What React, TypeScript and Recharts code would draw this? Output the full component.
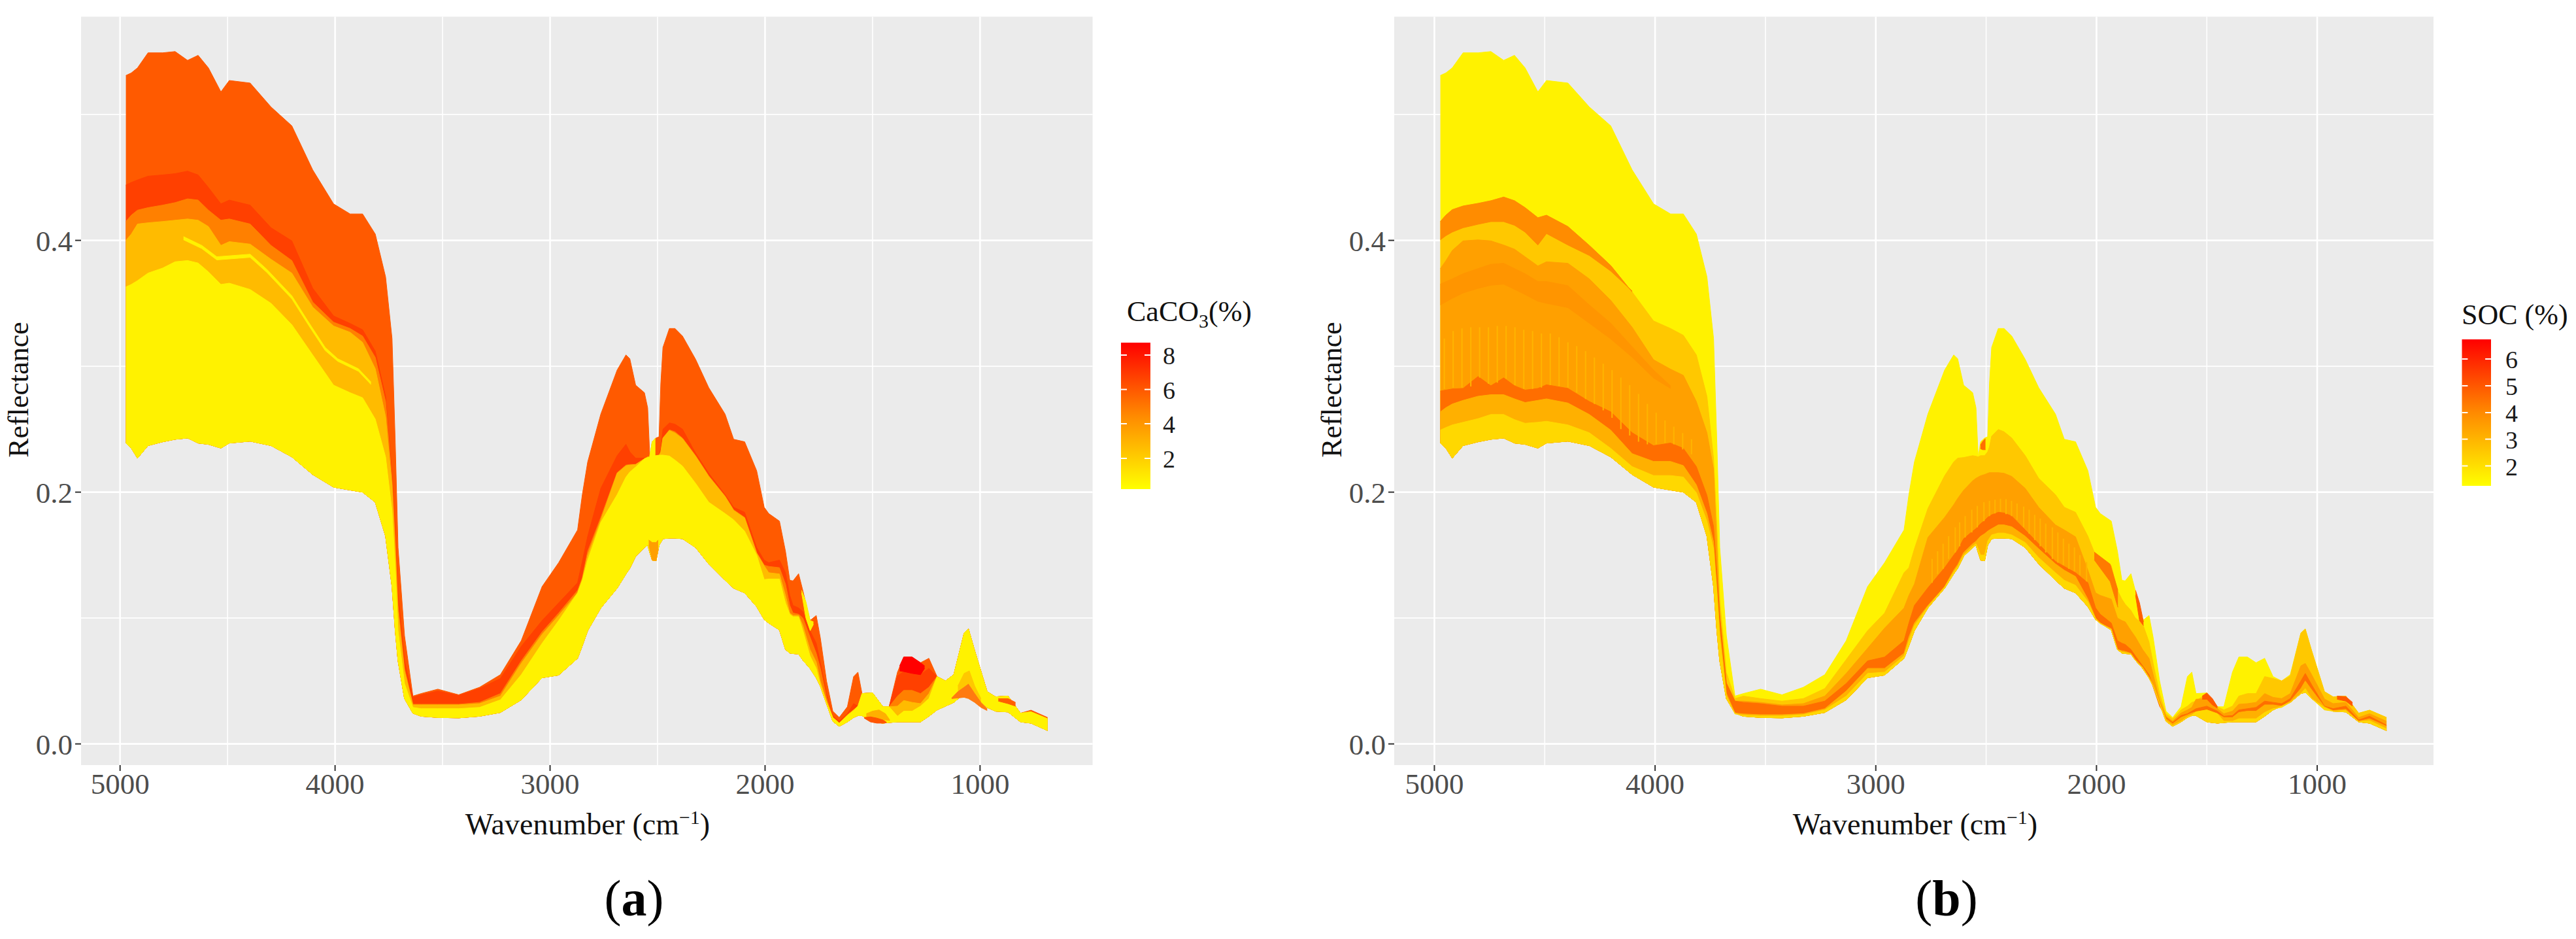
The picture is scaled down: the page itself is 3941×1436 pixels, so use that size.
import React from 'react';
import { ComposedChart, Area, Line, XAxis, YAxis, CartesianGrid } from 'recharts';

// Wavenumbers (cm-1) at which the envelope and colour-band boundaries were read
const wavenumbers = [
  4973,4948,4919,4870,4802,4744,4686,4637,4589,4531,
  4492,4395,4298,4201,4104,4007,3930,3872,3813,3765,
  3735,3720,3707,3677,3638,3600,3522,3425,3328,3231,
  3134,3037,2960,2872,2850,2825,2764,2688,2647,2629,
  2602,2561,2546,2536,2525,2507,2493,2485,2475,2445,
  2419,2384,2323,2262,2186,2146,2095,2039,2004,1983,
  1933,1905,1885,1870,1844,1824,1791,1762,1743,1714,
  1685,1655,1617,1588,1568,1549,1500,1452,1423,1384,
  1355,1316,1277,1238,1200,1161,1122,1074,1054,1025,
  967,928,870,812,763,686,
];

const envelopeTop = [
  .531,.533,.537,.549,.549,.550,.543,.547,.537,.518,
  .527,.525,.506,.491,.456,.429,.421,.421,.405,.371,
  .322,.239,.156,.086,.038,.040,.0435,.039,.045,.055,
  .082,.125,.144,.170,.198,.224,.262,.297,.309,.306,
  .285,.279,.267,.228,.240,.243,.244,.286,.315,.330,
  .330,.324,.3055,.283,.262,.242,.240,.217,.188,.183,
  .177,.153,.130,.1295,.1352,.1217,.098,.102,.0844,.050,
  .026,.021,.0295,.0535,.057,.040,.0405,.0295,.0295,.057,
  .069,.069,.0645,.068,.0535,.050,.055,.088,.0913,.074,
  .0415,.0374,.038,.0244,.0268,.021,
];

const envelopeBottom = [
  .239,.235,.227,.237,.240,.242,.243,.239,.238,.235,
  .239,.2405,.237,.228,.214,.204,.2017,.200,.192,.165,
  .125,.090,.066,.036,.0244,.022,.021,.0207,.022,.025,
  .035,.0526,.0547,.068,.078,.090,.108,.1237,.135,.1395,
  .149,.156,.158,.152,.146,.1455,.158,.160,.163,.1635,
  .1635,.163,.156,.143,.130,.1237,.120,.109,.0988,.096,
  .0905,.075,.0722,.0718,.0714,.0665,.060,.0525,.046,.032,
  .018,.014,.0175,.021,.0225,.0225,.0175,.0165,.017,.0175,
  .0175,.0175,.0175,.022,.027,.030,.033,.040,.041,.036,
  .029,.026,.0254,.0175,.0165,.0106,
];

// Panel (a): upper edges of the colour bands, from the deepest orange downwards
const caco3Edge1 = [
  .444,.446,.448,.451,.452,.453,.455,.452,.442,.429,
  .432,.428,.410,.3996,.362,.340,.334,.329,.312,.276,
  .215,.170,.120,.066,.037,.039,.042,.0385,.044,.052,
  .0775,.098,.112,.128,.145,.165,.203,.229,.238,.232,
  .227,.227,.228,.228,.2285,.229,.229,.235,.250,.255,
  .254,.250,.231,.215,.198,.188,.184,.156,.146,.144,
  .146,.136,.118,.110,.108,.105,.090,.080,.065,.040,
  .022,.018,.024,.032,.030,.040,.0405,.0295,.0295,.054,
  .0575,.056,.055,.060,.0535,.050,.055,.088,.0913,.074,
  .0415,.0374,.038,.0244,.0255,.020,
];
const caco3Edge2 = [
  .415,.420,.424,.426,.428,.430,.433,.432,.424,.416,
  .417,.413,.396,.384,.351,.335,.330,.324,.307,.272,
  .210,.160,.110,.060,.0315,.0315,.0315,.0315,.033,.040,
  .066,.089,.104,.122,.132,.153,.180,.2155,.2215,.222,
  .222,.2265,.228,.228,.2285,.229,.229,.232,.243,.2495,
  .248,.243,.229,.213,.197,.186,.180,.152,.142,.141,
  .140,.127,.110,.104,.103,.100,.085,.072,.060,.037,
  .021,.0165,.023,.027,.030,.040,.0405,.0295,.0295,.038,
  .0425,.0425,.040,.045,.0535,.050,.055,.088,.0913,.074,
  .0415,.0374,.038,.0244,.0255,.020,
];
const caco3Edge3 = [
  .400,.405,.413,.414,.415,.416,.417,.416,.411,.396,
  .399,.397,.385,.374,.347,.332,.327,.319,.298,.260,
  .205,.155,.105,.058,.0310,.031,.031,.031,.032,.038,
  .064,.087,.102,.120,.131,.150,.178,.2150,.2210,.2215,
  .222,.2265,.228,.228,.2285,.229,.229,.232,.243,.249,
  .247,.2425,.2285,.2125,.1965,.1855,.1795,.1515,.1415,.136,
  .135,.118,.104,.102,.102,.094,.075,.065,.050,.034,
  .021,.0165,.023,.027,.030,.040,.0405,.0295,.0295,.030,
  .0345,.033,.032,.040,.0535,.050,.055,.088,.0913,.074,
  .0415,.0374,.038,.0244,.0255,.020,
];
const caco3Edge4 = [
  .363,.365,.368,.374,.378,.383,.384,.382,.375,.365,
  .366,.361,.350,.333,.309,.285,.279,.275,.258,.228,
  .185,.140,.090,.048,.029,.028,.028,.028,.029,.035,
  .055,.080,.098,.120,.130,.146,.176,.198,.212,.216,
  .220,.2265,.2275,.228,.2285,.229,.2294,.2294,.2294,.2287,
  .2255,.2207,.207,.192,.183,.178,.169,.150,.1306,.131,
  .131,.112,.103,.101,.101,.090,.070,.060,.047,.033,
  .021,.0165,.0225,.0265,.030,.040,.0405,.0295,.0295,.022,
  .026,.026,.030,.036,.0535,.050,.055,.088,.0913,.074,
  .0415,.0374,.038,.0244,.0255,.020,
];

// Panel (a): small patches that sit on top of the nested bands
const caco3Thread = { wn: [4705,4620,4550,4395,4317,4201,4123,4046,3988,3891,3833],
  lo: [.4005,.3935,.3845,.3865,.3745,.3535,.3325,.3125,.3040,.2960,.2855],
  hi: [.4030,.3960,.3870,.3890,.3770,.3560,.3350,.3150,.3060,.2980,.2875] };
const caco3DipYellow = { wn: [2537,2525,2510], lo: [.226,.226,.226], hi: [.2285,.240,.243] };
const caco3DipOrange = { wn: [2541,2525,2507,2497], lo: [.158,.146,.1455,.155], hi: [.162,.160,.160,.162] };
const caco3Red = { wn: [1374,1355,1316,1277,1258], lo: [.058,.0575,.056,.055,.060], hi: [.062,.069,.069,.0645,.062] };
const caco3Sliver = { wn: [1830,1810,1790,1775], lo: [.120,.100,.090,.095], hi: [.122,.113,.098,.097] };
const caco3Amber = { wn: [1103,1074,1050,1025,996], lo: [.0415,.045,.0475,.040,.033], hi: [.046,.056,.058,.046,.036] };
const caco3Orange = { wn: [1132,1103,1074,1054,1025,996,967], lo: [.036,.0365,.037,.036,.033,.029,.0265], hi: [.0365,.0415,.045,.0475,.040,.033,.028] };
const caco3LowAmber = { wn: [1529,1500,1470,1440,1420], lo: [.022,.0205,.019,.019,.0185], hi: [.024,.026,.027,.024,.019] };
const caco3LowRed = { wn: [1539,1510,1480,1452,1435], lo: [.0205,.0175,.0165,.0165,.0168], hi: [.021,.0215,.0205,.019,.0172] };
const caco3Tail = { wn: [915,870,835], lo: [.034,.032,.030], hi: [.036,.036,.033] };

// Panel (b): upper edges of the colour bands
const socEdge1 = [
  .415,.420,.4244,.4273,.4294,.4315,.4344,.4315,.426,.418,
  .420,.411,.396,.380,.359,.336,.330,.3246,.309,.276,
  .2265,.1727,.1147,.0567,.036,.038,.036,.034,.036,.044,
  .067,.090,.104,.136,.140,.155,.187,.213,.224,.227,
  .2275,.229,.2285,.228,.229,.229,.232,.236,.2445,.2498,
  .248,.243,.229,.211,.198,.188,.184,.165,.1497,.147,
  .1415,.122,.115,.111,.106,.100,.0955,.081,.0638,.0398,
  .024,.020,.027,.030,.033,.034,.0405,.0295,.027,.030,
  .038,.040,.040,.0535,.052,.050,.054,.088,.0913,.074,
  .0415,.0374,.038,.0244,.0268,.021,
];
const socEdge2 = [
  .3776,.3838,.392,.3996,.4004,.3996,.3963,.393,.387,.3797,
  .383,.3818,.3694,.3524,.331,.3052,.2977,.2928,.272,.2472,
  .2182,.156,.1023,.0484,.034,.034,.033,.031,.032,.038,
  .056,.076,.092,.108,.118,.127,.164,.180,.190,.195,
  .2015,.209,.211,.212,.213,.214,.215,.2155,.2155,.2155,
  .215,.2125,.203,.188,.174,.170,.1645,.138,.120,.118,
  .115,.100,.098,.097,.090,.085,.075,.068,.055,.035,
  .022,.018,.0245,.027,.029,.0355,.036,.028,.024,.026,
  .0315,.032,.033,.040,.037,.036,.040,.062,.064,.055,
  .0357,.032,.033,.021,.024,.018,
];
const socEdge3 = [
  .2803,.2811,.282,.2824,.2919,.2845,.2908,.2845,.2811,.2824,
  .2853,.2824,.272,.2638,.2472,.2369,.239,.2348,.2203,.1975,
  .1727,.1354,.1023,.0484,.034,.033,.032,.030,.030,.034,
  .048,.066,.069,.082,.096,.110,.124,.140,.150,.154,
  .163,.169,.171,.173,.175,.1775,.180,.181,.182,.184,
  .1835,.181,.170,.159,.145,.141,.136,.128,.108,.103,
  .096,.082,.080,.079,.075,.070,.062,.055,.045,.030,
  .021,.017,.0225,.024,.026,.028,.030,.026,.022,.0225,
  .027,.028,.029,.034,.033,.032,.036,.050,.056,.047,
  .030,.028,.030,.019,.022,.015,
];
const socEdge4 = [
  .2638,.2671,.27,.2729,.2762,.2774,.2774,.2741,.2712,.2729,
  .2741,.2708,.2617,.2493,.2306,.2244,.2244,.2211,.2058,.183,
  .1603,.123,.090,.0402,.0245,.0238,.0232,.0232,.0240,.028,
  .042,.060,.060,.072,.085,.096,.110,.125,.138,.1425,
  .152,.159,.161,.163,.165,.167,.169,.170,.171,.174,
  .174,.1725,.165,.155,.143,.138,.133,.115,.100,.096,
  .0915,.075,.074,.0735,.072,.067,.061,.053,.0465,.0325,
  .020,.016,.021,.023,.0245,.0255,.027,.024,.021,.021,
  .025,.026,.026,.031,.031,.030,.034,.044,.050,.043,
  .0295,.0265,.0275,.018,.020,.014,
];
const socEdge5 = [
  .2493,.2513,.2534,.2555,.2584,.2617,.2617,.2576,.2547,.2555,
  .2563,.2534,.2472,.2348,.2203,.2132,.2132,.212,.1996,.1768,
  .155,.120,.085,.0382,.0238,.0228,.0222,.0222,.0232,.027,
  .038,.056,.057,.070,.082,.094,.109,.1245,.1365,.141,
  .150,.157,.159,.155,.150,.150,.161,.1635,.166,.1675,
  .1675,.166,.160,.148,.136,.130,.126,.113,.0995,.0955,
  .091,.075,.073,.0725,.0715,.0665,.0605,.0525,.046,.032,
  .0185,.0145,.018,.0215,.023,.0255,.027,.024,.018,.018,
  .020,.020,.020,.025,.028,.029,.033,.040,.044,.036,
  .027,.026,.0265,.0178,.0185,.012,
];

// Panel (b): patches on top of the nested bands
const socOrangeWn = [4973,4948,4919,4870,4802,4744,4686,4637,4589,4531,4492,4395,4298,4201,4104];
const socOrange = { wn: socOrangeWn,
  lo: [.4004,.4037,.4066,.41,.4128,.4149,.4149,.412,.4066,.3963,.4054,.3963,.388,.3756,.3598],
  hi: [.415,.420,.4244,.4273,.4294,.4315,.4344,.4315,.426,.418,.420,.411,.396,.380,.359] };
const socDeeperWn = [4973,4919,4870,4802,4744,4686,4637,4589,4531,4492,4395,4298,4201,4104,4007,3930];
const socDeeper = { wn: socDeeperWn,
  lo: [.3487,.354,.3582,.3619,.3644,.3652,.3611,.357,.3516,.35,.3466,.3342,.3217,.3072,.2907,.2824],
  hi: [.3652,.3694,.3735,.3776,.381,.3818,.3776,.3735,.3673,.3673,.364,.3487,.3342,.3155,.297,.2845] };
const socSpot = { wn: [2526,2515,2503], lo: [.2345,.2337,.2337], hi: [.2375,.2405,.2425] };
const socSliver = { wn: [1823,1805,1787], lo: [.118,.098,.094], hi: [.122,.112,.097] };
const socLowRed = { wn: [1521,1500,1475,1452], lo: [.0355,.0355,.031,.0285], hi: [.038,.0405,.036,.0295] };
const socDark = { wn: [2010,1938,1903], lo: [.1462,.129,.1085], hi: [.1524,.1428,.122] };
const socTail = { wn: [910,870,840], lo: [.0355,.034,.030], hi: [.038,.0375,.033] };

// Panel (b): the fine vertical streaks visible above the dark orange strip
const socStreakWn = [
  4955,4915,4875,4835,4795,4755,4715,4675,4635,4595,4555,4515,4475,4435,4395,
  4355,4315,4275,4235,4195,4155,4115,4075,4035,3995,3955,3915,3875,3835,
  2745,2720,2695,2670,2640,2620,2595,2565,2540,2510,2485,2460,2435,2410,2385,
  2360,2330,2305,2280,2255,2230,2200,2175,2150,2125,2100,2075,2045,
];
const socStreakHi = [
  .322,.328,.330,.331,.331,.331,.332,.332,.331,.329,.328,.326,.326,.323,.319,
  .316,.312,.307,.302,.297,.291,.285,.278,.270,.263,.257,.252,.247,.242,
  .147,.153,.159,.165,.172,.176,.181,.186,.189,.192,.193,.194,.1947,.1945,.193,
  .191,.1885,.186,.182,.179,.175,.172,.168,.163,.159,.156,.150,.1445,
];
const socStreakLo = [
  .282,.283,.283,.284,.291,.286,.287,.290,.285,.282,.282,.283,.285,.284,.283,
  .279,.274,.270,.265,.259,.250,.245,.240,.238,.238,.239,.238,.234,.230,
  .128,.135,.139,.147,.152,.157,.164,.168,.172,.177,.181,.183,.1843,.1825,.181,
  .178,.172,.167,.162,.157,.152,.147,.144,.142,.139,.137,.134,.129,
];

const majorX = [5000, 4000, 3000, 2000, 1000];
const minorX = [4500, 3500, 2500, 1500];
const majorY = [0, 0.2, 0.4];
const minorY = [0.1, 0.3, 0.5];

const FONT = '"Liberation Serif", serif';
const Y_DOMAIN = [-0.0168, 0.5777];

const nested = (edge: number[]) =>
  wavenumbers.map((wn, i) => ({ wn, range: [envelopeBottom[i], edge[i]] }));
const patch = (p: { wn: number[]; lo: number[]; hi: number[] }) =>
  p.wn.map((wn, i) => ({ wn, range: [p.lo[i], p.hi[i]] }));
// Each streak is two points followed by a gap, so a single Line draws them all
const streakRows = socStreakWn.flatMap((wn, i) => [
  { wn, v: socStreakLo[i] },
  { wn, v: socStreakHi[i] },
  { wn, v: null },
]);

const caco3Layers: [any[], string][] = [
  [nested(envelopeTop), '#FF5A00'],
  [nested(caco3Edge1), '#FF4000'],
  [nested(caco3Edge2), '#FF8000'],
  [nested(caco3Edge3), '#FFBB00'],
  [nested(caco3Edge4), '#FFF200'],
  [patch(caco3Thread), '#FFF200'],
  [patch(caco3DipYellow), '#FFF200'],
  [patch(caco3DipOrange), '#FF9F00'],
  [patch(caco3Red), '#FF0000'],
  [patch(caco3Sliver), '#FFF200'],
  [patch(caco3Amber), '#FFC800'],
  [patch(caco3Orange), '#FF7A10'],
  [patch(caco3LowAmber), '#FFB000'],
  [patch(caco3LowRed), '#FF5500'],
  [patch(caco3Tail), '#FF6000'],
];

const socLayers: [any[], string][] = [
  [nested(envelopeTop), '#FFF200'],
  [nested(socEdge1), '#FFC800'],
  [patch(socOrange), '#FF8C00'],
  [nested(socEdge2), '#FFA000'],
  [patch(socDeeper), '#FF9500'],
  [nested(socEdge3), '#FF6E00'],
  [nested(socEdge4), '#FFB000'],
  [nested(socEdge5), '#FFD800'],
  [patch(socSpot), '#FF6E00'],
  [patch(socSliver), '#FF6000'],
  [patch(socLowRed), '#FF5A00'],
  [patch(socDark), '#FF7A00'],
  [patch(socTail), '#FF5A00'],
];

function Panel({ left, width, rightMargin, xDomain, layers, streaks }: any) {
  return (
    <div style={{ position: 'absolute', left, top: 0 }}>
      <ComposedChart
        width={width}
        height={1310}
        margin={{ top: 25.5, right: rightMargin, left: 0, bottom: 60 }}
      >
        <CartesianGrid fill="#EBEBEB" stroke="#FFFFFF" strokeWidth={1.6}
          verticalValues={minorX} horizontalValues={minorY} />
        <CartesianGrid stroke="#FFFFFF" strokeWidth={2.6} fillOpacity={0}
          verticalValues={majorX} horizontalValues={majorY} />
        <XAxis type="number" dataKey="wn" reversed domain={xDomain} allowDataOverflow
          ticks={majorX} interval={0} height={80} axisLine={false}
          tickSize={9} tickMargin={3}
          tickLine={{ stroke: '#333333', strokeWidth: 2 }}
          tick={{ fontFamily: FONT, fontSize: 45, fill: '#4D4D4D' }} />
        <YAxis type="number" domain={Y_DOMAIN} allowDataOverflow
          ticks={majorY} interval={0} width={124} axisLine={false}
          tickSize={9} tickMargin={4}
          tickFormatter={(v: number) => v.toFixed(1)}
          tickLine={{ stroke: '#333333', strokeWidth: 2 }}
          tick={{ fontFamily: FONT, fontSize: 45, fill: '#4D4D4D' }} />
        {layers.map(([data, color]: [any[], string], i: number) => (
          <Area key={i} data={data} dataKey="range" type="linear"
            fill={color} fillOpacity={1} stroke={color} strokeWidth={1}
            dot={false} activeDot={false} isAnimationActive={false} />
        ))}
        {streaks ? (
          <Line data={streaks} dataKey="v" type="linear" stroke="#FFB400" strokeWidth={2}
            dot={false} activeDot={false} connectNulls={false} isAnimationActive={false} />
        ) : null}
      </ComposedChart>
    </div>
  );
}

function ColorBar({ id, x, y, w, h, ticks, labelX, labels }: any) {
  return (
    <g>
      <defs>
        <linearGradient id={id} x1="0" y1="0" x2="0" y2="1">
          <stop offset="0" stopColor="#FF0000" />
          <stop offset="0.5" stopColor="#FF8A00" />
          <stop offset="1" stopColor="#FFFF00" />
        </linearGradient>
      </defs>
      <rect x={x} y={y} width={w} height={h} fill={`url(#${id})`} />
      {ticks.map((t: number, i: number) => (
        <g key={i} stroke="#FFFFFF" strokeWidth={2}>
          <line x1={x} x2={x + w / 5} y1={t} y2={t} />
          <line x1={x + w - w / 5} x2={x + w} y1={t} y2={t} />
        </g>
      ))}
      {labels.map((l: string, i: number) => (
        <text key={l} x={labelX} y={ticks[i] + 14} fontFamily={FONT} fontSize={38} fill="#1A1A1A">{l}</text>
      ))}
    </g>
  );
}

const Wave = ({ x }: { x: number }) => (
  <text x={x} y={1276} fontFamily={FONT} fontSize={46} fill="#111" textAnchor="middle">
    Wavenumber (cm<tspan dy={-16} fontSize={30}>−1</tspan><tspan dy={16}>)</tspan>
  </text>
);
const Refl = ({ x }: { x: number }) => (
  <text transform={`translate(${x},596) rotate(-90)`} fontFamily={FONT} fontSize={44} fill="#111" textAnchor="middle">
    Reflectance
  </text>
);
const Tag = ({ x, t }: { x: number; t: string }) => (
  <text x={x} y={1400} fontFamily={FONT} fontSize={78} fill="#000" textAnchor="middle">
    (<tspan fontWeight="bold">{t}</tspan>)
  </text>
);

export default function App() {
  return (
    <div style={{ position: 'absolute', left: 0, top: 0, width: 3941, height: 1436, background: '#fff', overflow: 'hidden' }}>
      <Panel left={0} width={1680} rightMargin={8.4} xDomain={[476.4, 5181.5]} layers={caco3Layers} />
      <Panel left={2009} width={1722} rightMargin={8} xDomain={[473, 5182]} layers={socLayers} streaks={streakRows} />
      <svg width={3941} height={1436} style={{ position: 'absolute', left: 0, top: 0, pointerEvents: 'none' }}>
        <Refl x={43} />
        <Refl x={2052} />
        <Wave x={899} />
        <Wave x={2930} />
        <Tag x={970} t="a" />
        <Tag x={2978} t="b" />
        <text x={1724} y={491} fontFamily={FONT} fontSize={44} fill="#111">
          CaCO<tspan dy={10} fontSize={30}>3</tspan><tspan dy={-10}>(%)</tspan>
        </text>
        <text x={3766} y={496} fontFamily={FONT} fontSize={44} fill="#111">SOC (%)</text>
        <ColorBar id="barA" x={1715} y={524} w={45} h={224} ticks={[543, 595.6, 648, 701]} labelX={1779} labels={['8', '6', '4', '2']} />
        <ColorBar id="barB" x={3766.5} y={519} w={44.5} h={224} ticks={[549, 590, 631, 671.6, 712.5]} labelX={3833} labels={['6', '5', '4', '3', '2']} />
      </svg>
    </div>
  );
}
